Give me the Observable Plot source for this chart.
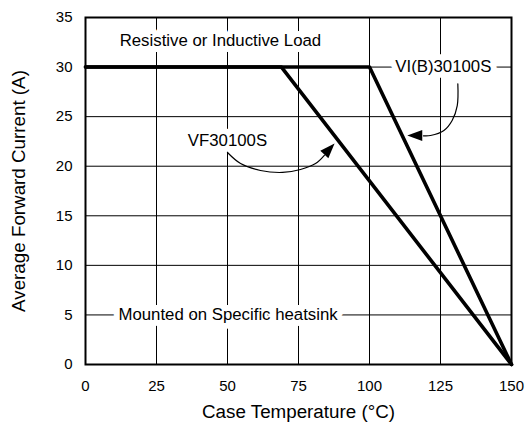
<!DOCTYPE html>
<html>
<head>
<meta charset="utf-8">
<script src="https://cdn.jsdelivr.net/npm/d3@7"></script>
<script src="https://cdn.jsdelivr.net/npm/@observablehq/plot@0.6"></script>
<style>
  html, body { margin: 0; padding: 0; background: white; }
</style>
</head>
<body>
<div id="chart"></div>
<script>
// Tick values
const xTicks = [0, 25, 50, 75, 100, 125, 150];
const yTicks = [0, 5, 10, 15, 20, 25, 30, 35];
const xGrid = [25, 50, 75, 100, 125];
const yGrid = [5, 10, 15, 20, 25, 30];

// Derating curves (Case temperature °C, Average forward current A)
const vfTemp = [0, 69, 150];
const vfCurrent = [30, 30, 0];
const viTemp = [0, 100, 150];
const viCurrent = [30, 30, 0];

// Annotation labels
const noteText = ["Resistive or Inductive Load", "VF30100S", "VI(B)30100S", "Mounted on Specific heatsink"];
const noteX = [47.5, 50, 126, 50.2];
const noteY = [32.7, 22.6, 30, 5];

// Curved callout arrows (data coordinates)
const vfArrowX = [50.0, 54.6, 61.6, 69.4, 75.7, 81.0, 84.1];
const vfArrowY = [21.38, 20.27, 19.57, 19.37, 19.67, 20.27, 21.1];
const viArrowX = [131.1, 130.9, 129.1, 126.2, 121.5, 119.0];
const viArrowY = [28.31, 26.12, 24.61, 23.60, 23.10, 23.07];
const headX = [87.7, 113.3];
const headY = [22.29, 23.10];
const headAngle = [-47, 180];

const xTitle = "Case Temperature (°C)";
const yTitle = "Average Forward Current (A)";

const toRows = (xs, ys) => xs.map((x, i) => ({x, y: ys[i]}));
const vf = toRows(vfTemp, vfCurrent);
const vi = toRows(viTemp, viCurrent);
const notes = noteText.map((t, i) => ({t, x: noteX[i], y: noteY[i]}));
const vfArrow = toRows(vfArrowX, vfArrowY);
const viArrow = toRows(viArrowX, viArrowY);
const heads = headX.map((x, i) => ({x, y: headY[i], a: headAngle[i]}));

const arrowHead = {
  draw(ctx) {
    ctx.moveTo(0, 0);
    ctx.lineTo(-15, -5.5);
    ctx.lineTo(-15, 5.5);
    ctx.closePath();
  }
};

const chart = Plot.plot({
  width: 525,
  height: 423,
  marginLeft: 85,
  marginRight: 14,
  marginTop: 17,
  marginBottom: 59,
  style: {fontFamily: "'Liberation Sans', Arial, Helvetica, sans-serif", fontSize: "15px", color: "black", background: "white"},
  x: {domain: [0, 150], ticks: xTicks, tickSize: 0, tickPadding: 16, label: null},
  y: {domain: [0, 35], ticks: yTicks, tickSize: 0, tickPadding: 13, label: null},
  marks: [
    Plot.ruleX(xGrid, {stroke: "black", strokeWidth: 1}),
    Plot.ruleY(yGrid, {stroke: "black", strokeWidth: 1}),
    Plot.text(notes, {x: "x", y: "y", text: "t", fontSize: 16.8, fill: "black", stroke: "white", strokeWidth: 12, strokeLinejoin: "round"}),
    Plot.line(vf, {x: "x", y: "y", stroke: "black", strokeWidth: 3.6}),
    Plot.line(vi, {x: "x", y: "y", stroke: "black", strokeWidth: 3.6}),
    Plot.line(vfArrow, {x: "x", y: "y", curve: "catmull-rom", stroke: "black", strokeWidth: 1.2}),
    Plot.line(viArrow, {x: "x", y: "y", curve: "catmull-rom", stroke: "black", strokeWidth: 1.2}),
    Plot.dot(heads, {x: "x", y: "y", rotate: "a", symbol: arrowHead, fill: "black", stroke: "none", r: 5}),
    Plot.frame({stroke: "black", strokeWidth: 2}),
    Plot.text([xTitle], {text: d => d, frameAnchor: "bottom", textAnchor: "middle", lineAnchor: "middle", dy: 47, fontSize: 18.8, fill: "black"}),
    Plot.text([yTitle], {text: d => d, frameAnchor: "left", textAnchor: "middle", lineAnchor: "middle", rotate: -90, dx: -67, fontSize: 18.8, fill: "black"})
  ]
});
document.getElementById("chart").appendChild(chart);
</script>
</body>
</html>
